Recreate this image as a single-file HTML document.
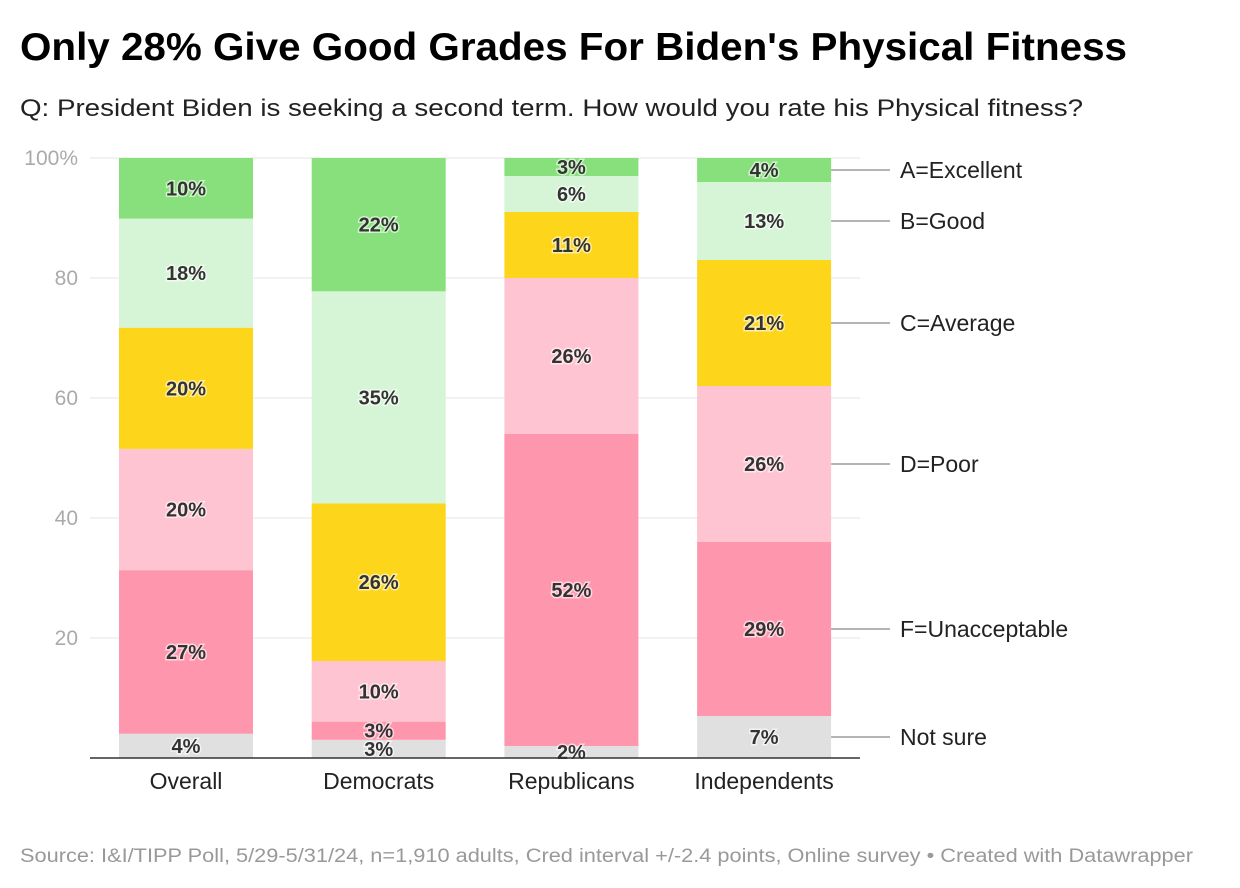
<!DOCTYPE html>
<html><head><meta charset="utf-8"><style>
body{margin:0;background:#fff;font-family:"Liberation Sans",Arial,sans-serif;}
#wrap{position:relative;width:1240px;height:888px;overflow:hidden;}
</style></head><body>
<div id="wrap">
<svg id="svg" width="1240" height="888">
<text x="20" y="60" font-size="39" font-weight="bold" fill="#000" textLength="1107" lengthAdjust="spacingAndGlyphs">Only 28% Give Good Grades For Biden's Physical Fitness</text>
<text x="20" y="116" font-size="24" fill="#222" textLength="1063" lengthAdjust="spacingAndGlyphs">Q: President Biden is seeking a second term. How would you rate his Physical fitness?</text>
<text x="20" y="862" font-size="19" fill="#999" textLength="1173" lengthAdjust="spacingAndGlyphs">Source: I&amp;I/TIPP Poll, 5/29-5/31/24, n=1,910 adults, Cred interval +/-2.4 points, Online survey • Created with Datawrapper</text>
<g id="grid"></g><g id="bars"></g><g id="labels"></g>
</svg>
</div>
<script>
const categories=["Overall","Democrats","Republicans","Independents"];
const seriesNames=["Not sure","F=Unacceptable","D=Poor","C=Average","B=Good","A=Excellent"];
const notSure=[4,3,2,7];
const gradeF=[27,3,52,29];
const gradeD=[20,10,26,26];
const gradeC=[20,26,11,21];
const gradeB=[18,35,6,13];
const gradeA=[10,22,3,4];
const yTicks=[0,20,40,60,80,100];
const yTickLabels=["","20","40","60","80","100%"];
const series=[notSure,gradeF,gradeD,gradeC,gradeB,gradeA];
const colors=["#e0e0e0","#fe97ae","#fec4d1","#fdd51b","#d6f5d6","#88e07c"];
const NS="http://www.w3.org/2000/svg";
const y0=758,y1=158,xL=90,xR=860,barW=134;
const yScale=v=>y0-(v/100)*(y0-y1);
const xScale=i=>119+i*192.7;
function mk(tag,attrs,parent){const e=document.createElementNS(NS,tag);for(const k in attrs)e.setAttribute(k,attrs[k]);parent.appendChild(e);return e;}
const grid=document.getElementById('grid'),bars=document.getElementById('bars'),labels=document.getElementById('labels');
yTicks.forEach((t,i)=>{
 if(t>0){const l=mk('line',{x1:xL,x2:xR,y1:yScale(t),y2:yScale(t),stroke:'#e4e4e4','stroke-width':1},grid);
 
 }
 const tx=mk('text',{x:78,y:yScale(t)+7,'font-size':21,fill:'#aaa','text-anchor':'end'},grid);
 tx.textContent=yTickLabels[i];
 
 
});
categories.forEach((c,ci)=>{
 let total=0;series.forEach(s=>total+=s[ci]);
 let cum=0;const x=xScale(ci);
 series.forEach((s,si)=>{
  const v=s[ci]/total*100;
  const top=yScale(cum+v),bot=yScale(cum);
  const r=mk('rect',{x:x,y:top,width:barW,height:bot-top,fill:colors[si]},bars);
  
  
  const t=mk('text',{x:x+barW/2,y:(top+bot)/2+7,'font-size':20,'font-weight':'bold',fill:'#333','text-anchor':'middle',stroke:'rgba(255,255,255,0.6)','stroke-width':3,'paint-order':'stroke'},labels);
  t.textContent=s[ci]+'%';
  
  
  if(ci===categories.length-1){
   const my=(top+bot)/2;
   const ln=mk('line',{x1:x+barW,x2:890,y1:my,y2:my,stroke:'#888','stroke-width':1.3},labels);
   
   
   const lt=mk('text',{x:900,y:my+8,'font-size':23,fill:'#222'},labels);
   lt.textContent=seriesNames[si];
   
   
  }
  cum+=v;
 });
 const cl=mk('text',{x:x+barW/2,y:789,'font-size':23,fill:'#222','text-anchor':'middle'},labels);
 cl.textContent=c;
 
 
});
const ax=mk('line',{x1:xL,x2:xR,y1:y0,y2:y0,stroke:'#333','stroke-width':1.5},labels);


</script>
</body></html>
